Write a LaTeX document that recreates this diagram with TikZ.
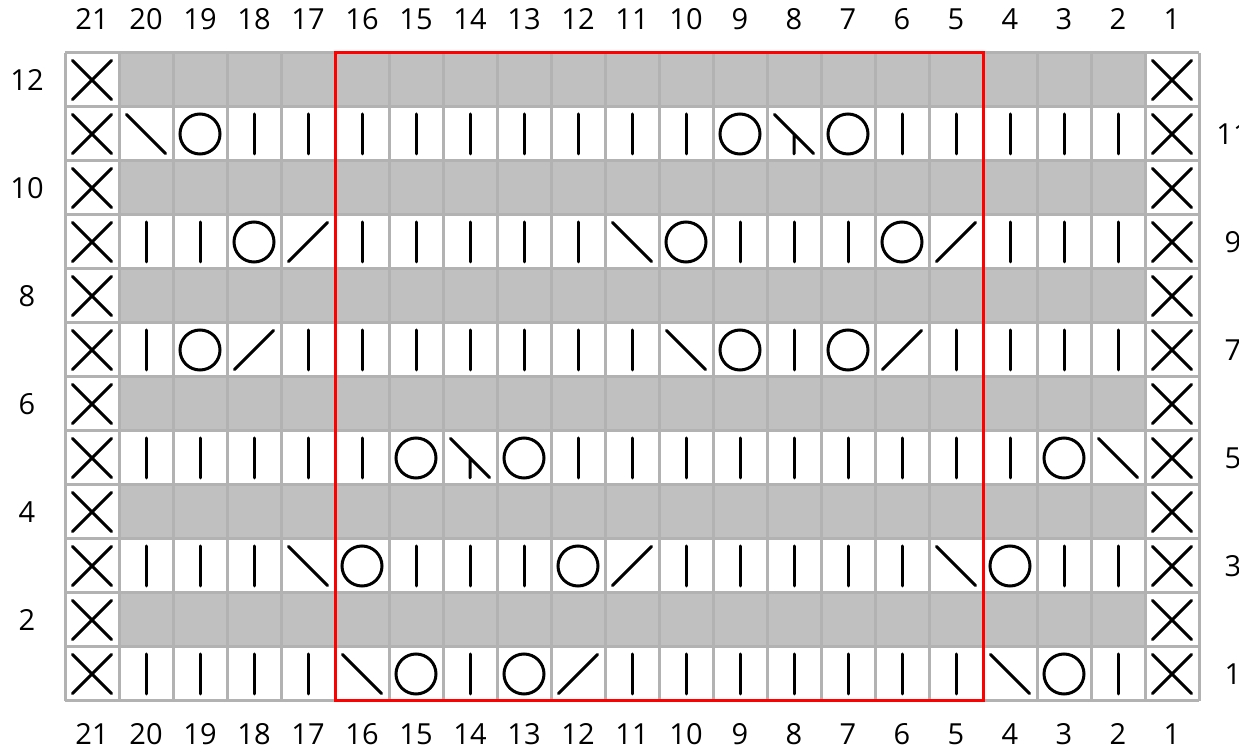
\documentclass[tikz,border=0pt]{standalone}
\usepackage{fontspec}
\setmainfont{Open Sans}
\definecolor{gridgray}{RGB}{178,178,178}
\definecolor{cellgray}{RGB}{192,192,192}
\tikzset{
  stitch/.style={line width=1.5pt, line cap=round, black},
  pics/knit/.style={code={\draw[stitch] (0,-20) -- (0,20);}},
  pics/yo/.style={code={\draw[stitch] (0,0) circle (20);}},
  pics/lslant/.style={code={\draw[stitch] (-19.5,-19.5) -- (19.5,19.5);}},
  pics/rslant/.style={code={\draw[stitch] (-19.5,19.5) -- (19.5,-19.5);}},
  pics/cdd/.style={code={\draw[stitch] (-19.5,-19.5) -- (19.5,19.5) (0,0) -- (0,20);}},
  pics/selv/.style={code={\draw[stitch] (-19.5,-19.5) -- (19.5,19.5) (-19.5,19.5) -- (19.5,-19.5);}},
}
\begin{document}
\begin{tikzpicture}[
  x=0.5pt, y=-0.5pt,
  every node/.style={font=\fontsize{14.5}{17}\selectfont, anchor=base, inner sep=0pt},
  gridline/.style={draw=gridgray, line width=1.5pt},
  repeatbox/.style={draw=red, line width=1.5pt},
]
\useasboundingbox[fill=white] (0,0) rectangle (1239,748);

% wrong-side rows, grey
\foreach \r in {2,4,...,12}
  \fill[cellgray] (119,{53+(12-\r)*54}) rectangle (1145,{107+(12-\r)*54});

% grid
\foreach \i in {0,...,21}
  \draw[gridline] ({65+\i*54},53) -- ({65+\i*54},701);
\foreach \j in {0,...,12}
  \draw[gridline] (65,{53+\j*54}) -- (1199,{53+\j*54});

% edge stitches
\foreach \r in {1,...,12} {
  \pic at (92,{80+(12-\r)*54}) {selv};
  \pic at (1172,{80+(12-\r)*54}) {selv};
}

% right-side rows, columns 20 to 2
\foreach \s [count=\i from 0] in {lslant,yo,knit,knit,knit,knit,knit,knit,knit,knit,knit,yo,cdd,yo,knit,knit,knit,knit,knit}
  \pic at ({146+\i*54},134) {\s};
\foreach \s [count=\i from 0] in {knit,knit,yo,rslant,knit,knit,knit,knit,knit,lslant,yo,knit,knit,knit,yo,rslant,knit,knit,knit}
  \pic at ({146+\i*54},242) {\s};
\foreach \s [count=\i from 0] in {knit,yo,rslant,knit,knit,knit,knit,knit,knit,knit,lslant,yo,knit,yo,rslant,knit,knit,knit,knit}
  \pic at ({146+\i*54},350) {\s};
\foreach \s [count=\i from 0] in {knit,knit,knit,knit,knit,yo,cdd,yo,knit,knit,knit,knit,knit,knit,knit,knit,knit,yo,lslant}
  \pic at ({146+\i*54},458) {\s};
\foreach \s [count=\i from 0] in {knit,knit,knit,lslant,yo,knit,knit,knit,yo,rslant,knit,knit,knit,knit,knit,lslant,yo,knit,knit}
  \pic at ({146+\i*54},566) {\s};
\foreach \s [count=\i from 0] in {knit,knit,knit,knit,lslant,yo,knit,yo,rslant,knit,knit,knit,knit,knit,knit,knit,lslant,yo,knit}
  \pic at ({146+\i*54},674) {\s};

% pattern repeat
\draw[repeatbox] (335,53) rectangle (983,701);

% column numbers
\foreach \c in {1,...,21} {
  \node (top\c) at ({92+(21-\c)*54},30) {\c};
  \node (bot\c) at ({92+(21-\c)*54},745) {\c};
}
% row numbers
\foreach \r in {2,4,...,12}
  \node (left\r) at (27,{91+(12-\r)*54}) {\r};
\foreach \r in {1,3,...,11}
  \node (right\r) at (1233,{91+(12-\r)*54}) {\r};

\end{tikzpicture}
\end{document}
